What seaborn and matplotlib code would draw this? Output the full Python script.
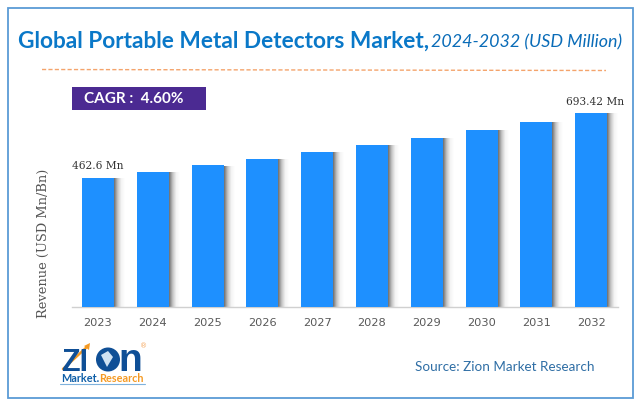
import numpy as np
import pandas as pd
import seaborn as sns
import matplotlib
matplotlib.use("Agg")
import matplotlib.pyplot as plt
from matplotlib.patches import Rectangle, Circle, Polygon

years = ["2023", "2024", "2025", "2026", "2027", "2028", "2029", "2030", "2031", "2032"]
revenue = [462.6, 484, 506, 530, 555, 580, 605, 634, 663, 693.42]
first_label = "462.6 Mn"
last_label = "693.42 Mn"
W, H = 641, 407

sns.set_theme(style="white")
fig = plt.figure(figsize=(W / 100, H / 100), dpi=100, facecolor="white")
bg = fig.add_axes([0, 0, 1, 1])
bg.set_xlim(0, W); bg.set_ylim(H, 0); bg.axis("off")

# Frame
bg.add_patch(Rectangle((7.5, 7.5), 625, 390.5, fill=False, ec="#5b9bd5", lw=1.3))

# Title
bg.text(18, 41, "Global Portable Metal Detectors Market,", color="#0a78c8", fontsize=16.3,
        fontweight="bold", family="Lato", va="center", ha="left")
bg.text(431, 42, "2024-2032 (USD Million)", color="#0a6cb8", fontsize=12.9, style="italic",
        family="Lato", va="center", ha="left")
bg.plot([42, 606], [69.5, 70.5], color="#f4a46c", lw=1, ls=(0, (3, 1.6)))

# CAGR
bg.add_patch(Rectangle((72, 87), 134, 23, fc="#4b2a92", ec="none"))
bg.text(84, 99, "CAGR :  4.60%", color="white", fontsize=11, fontweight="bold",
        family="Lato", va="center", ha="left")

# Main axes
left, right, top, bottom = 72, 618, 100, 307
ax = fig.add_axes([left / W, 1 - bottom / H, (right - left) / W, (bottom - top) / H])
ax.patch.set_alpha(0)
df = pd.DataFrame({"year": years, "revenue": revenue})
sns.barplot(data=df, x="year", y="revenue", color="#1e90ff", saturation=1, width=0.585,
            linewidth=0, edgecolor="none", ax=ax, zorder=3)

# soft shadow to the right of each bar
grad = np.linspace(0, 1, 32).reshape(1, -1)
cmap = matplotlib.colors.LinearSegmentedColormap.from_list("s", ["#6f6f6f", "#c4c4c4", "#f4f4f4", "#ffffff"])
for i, v in enumerate(revenue):
    ax.imshow(grad, extent=(i + 0.2925, i + 0.49, 0, v - 3), aspect="auto", cmap=cmap, zorder=2)
ax.set_xlim(-0.474, 9.49)
ax.set_ylim(0, 693.42 * 207 / 194)

for s in ["top", "right", "left"]:
    ax.spines[s].set_visible(False)
ax.spines["bottom"].set_color("#d0d0d0")
ax.spines["bottom"].set_linewidth(1)
ax.set_yticks([])
ax.set_xlabel("")
ax.set_ylabel("")
ax.tick_params(axis="x", length=0, pad=8, labelsize=8.2, labelcolor="#595959")
for lab in ax.get_xticklabels():
    lab.set_family("DejaVu Sans")

ax.text(0, revenue[0] + 22, first_label, ha="center", va="bottom", fontsize=7.7, family="DejaVu Serif", color="#333333", zorder=5)
ax.text(9.07, revenue[-1] + 22, last_label, ha="center", va="bottom", fontsize=7.7, family="DejaVu Serif", color="#333333", zorder=5)

bg.text(43, 243, "Revenue (USD Mn/Bn)", rotation=90, ha="center", va="center", fontsize=9.4,
        family="DejaVu Serif", color="#555555")

# Source
bg.text(415, 367, "Source: Zion Market Research", color="#2f6ea5", fontsize=9.7,
        family="Lato", va="center", ha="left")

# Logo
bg.text(61, 371, "ZI", color="#0f4f96", fontsize=22, fontweight="bold", family="Liberation Sans", va="baseline", ha="left")
bg.add_patch(Circle((108, 359.5), 12, fc="#0f4f96", ec="none"))
bg.add_patch(Polygon([[101, 355], [108, 351], [113, 357], [107, 367]], fc="#cfe2f3", ec="none"))
bg.text(118, 371, "n", color="#0f4f96", fontsize=28, fontweight="bold", family="Liberation Sans", va="baseline", ha="left")
bg.plot([63, 88], [369, 346], color="#f59a23", lw=1.8)
bg.add_patch(Polygon([[84, 346], [90, 343], [89, 350]], fc="#f59a23", ec="none"))
bg.text(61, 378.5, "Market.", color="#0f5fa8", fontsize=7.8, fontweight="bold", family="Lato", va="center", ha="left")
bg.text(99, 378.5, "Research", color="#f59a23", fontsize=7.8, fontweight="bold", family="Lato", va="center", ha="left")
bg.plot([60, 145], [383.5, 383.5], color="#7fb2dc", lw=0.8)
bg.text(144, 346, "®", color="#f5a55a", fontsize=5, ha="center", va="center")

fig.savefig("out.png", dpi=100)
